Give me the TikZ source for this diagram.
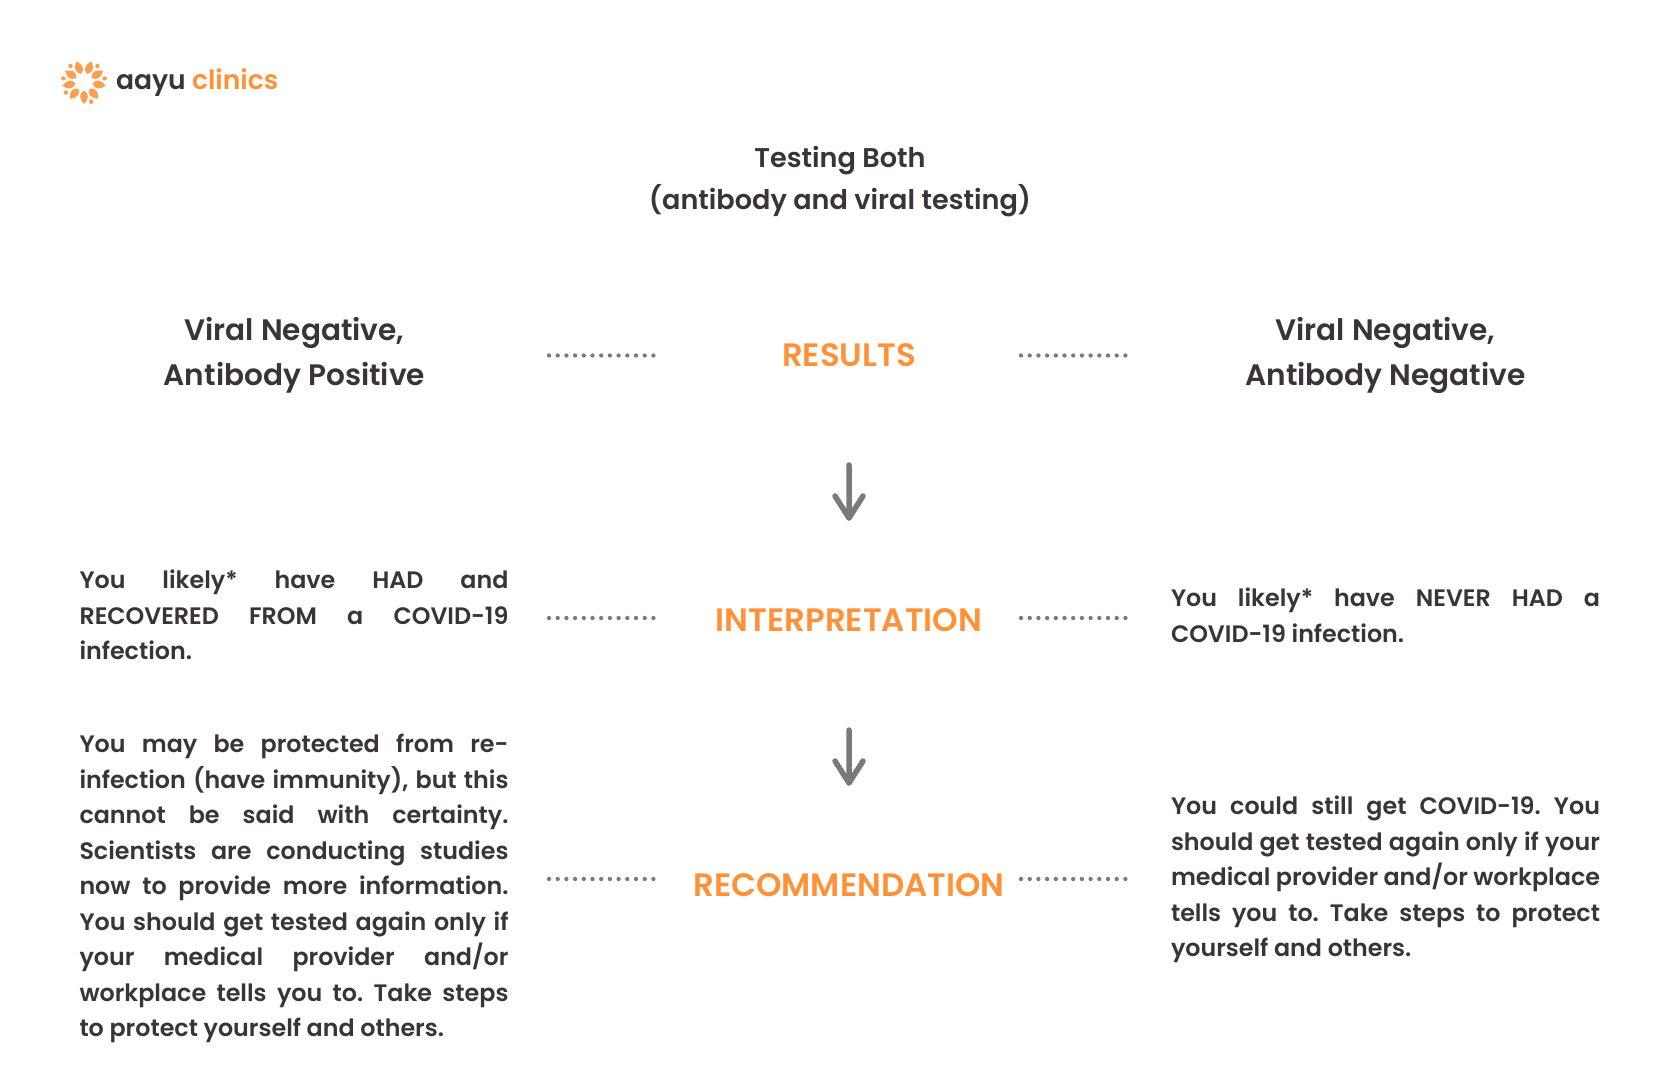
\documentclass[tikz,border=0pt]{standalone}
\usepackage{fontspec}
\setmainfont{Poppins}[BoldFont=Poppins SemiBold]
\definecolor{ink}{HTML}{3A343A}
\definecolor{org}{HTML}{FF9238}
\definecolor{lgo}{HTML}{FC9F50}
\definecolor{gry}{HTML}{7A7A7A}
\newcommand{\bodyfs}{\fontsize{23.8}{35.5}\bfseries\selectfont\frenchspacing}
\tikzset{x=1pt,y=-1pt,
 every node/.style={inner sep=0pt,outer sep=0pt},
 para/.style={text=ink,anchor=north west,text width=429pt,font=\bodyfs,align=justify},
 head/.style={text=ink,align=center,font=\fontsize{29.6}{45}\bfseries\selectfont},
 title/.style={text=ink,align=center,font=\fontsize{27.1}{42}\bfseries\selectfont},
 label/.style={text=org,font=\fontsize{32.4}{40}\bfseries\selectfont},
 dots/.style={gry,line width=4.3pt,line cap=round,dash pattern=on 0pt off 8.7pt},
 arr/.style={gry,line width=5.5pt,line cap=round,line join=round}}
\begin{document}
\begin{tikzpicture}
\useasboundingbox (0,0) rectangle (1680,1080);
\fill[white] (0,0) rectangle (1680,1080);
% logo
\begin{scope}[shift={(84,82)}]
\foreach \k in {0,...,8}{
 \fill[lgo,rotate=180+40*\k] (0,-8.5) .. controls (5.6,-12) and (4.8,-17) .. (0,-22) .. controls (-4.8,-17) and (-5.6,-12) .. (0,-8.5);
}
\foreach \k in {0,2,3,5,6,7}{
 \fill[lgo,rotate=200+40*\k] (0,-18.5) .. controls (3,-19.5) and (2.6,-22.5) .. (0,-23.5) .. controls (-2.6,-22.5) and (-3,-19.5) .. (0,-18.5);
}
\end{scope}
\node[anchor=west,font=\fontsize{26.6}{30}\bfseries\selectfont] (logo) at (116,83) {\textcolor{ink}{aayu} \textcolor{org}{clinics}};
\node[title] (t) at (840,181.5) {Testing Both\\(antibody and viral testing)};
\node[head] (h1) at (294.5,355) {Viral Negative,\\Antibody Positive};
\node[head] (h2) at (1385.5,355) {Viral Negative,\\Antibody Negative};
\node[label] (r) at (849,355) {RESULTS};
\node[label] (i) at (849,620) {INTERPRETATION};
\node[label] (c) at (849,885) {RECOMMENDATION};
\foreach \y/\n in {355.5/a,618/b,879/d}{
 \coordinate (l\n s) at (549,\y); \coordinate (l\n e) at (654,\y);
 \coordinate (r\n s) at (1021,\y); \coordinate (r\n e) at (1126,\y);
 \draw[dots] (l\n s) -- (l\n e);
 \draw[dots] (r\n s) -- (r\n e);
}
\coordinate (a1) at (849,465); \coordinate (a2) at (849,518);
\coordinate (b1) at (849,730); \coordinate (b2) at (849,783);
\draw[arr] (a1) -- (a2) (835,496) -- (a2) -- (863,496);
\draw[arr] (b1) -- (b2) (835,761) -- (b2) -- (863,761);
\node[para] (p1) at (79.5,570) {You likely* have HAD and\linebreak RECOVERED FROM a COVID-19\linebreak infection.};
\node[para] (p2) at (79.5,734) {You may be protected from re-\linebreak infection (have immunity), but this\linebreak cannot be said with certainty.\linebreak Scientists are conducting studies\linebreak now to provide more information.\linebreak You should get tested again only if\linebreak your medical provider and/or\linebreak workplace tells you to. Take steps\linebreak to protect yourself and others.};
\node[para] (p3) at (1171,588) {You likely* have NEVER HAD a\linebreak COVID-19 infection.};
\node[para] (p4) at (1171,796) {You could still get COVID-19. You\linebreak should get tested again only if your\linebreak medical provider and/or workplace\linebreak tells you to. Take steps to protect\linebreak yourself and others.};
\end{tikzpicture}
\end{document}
